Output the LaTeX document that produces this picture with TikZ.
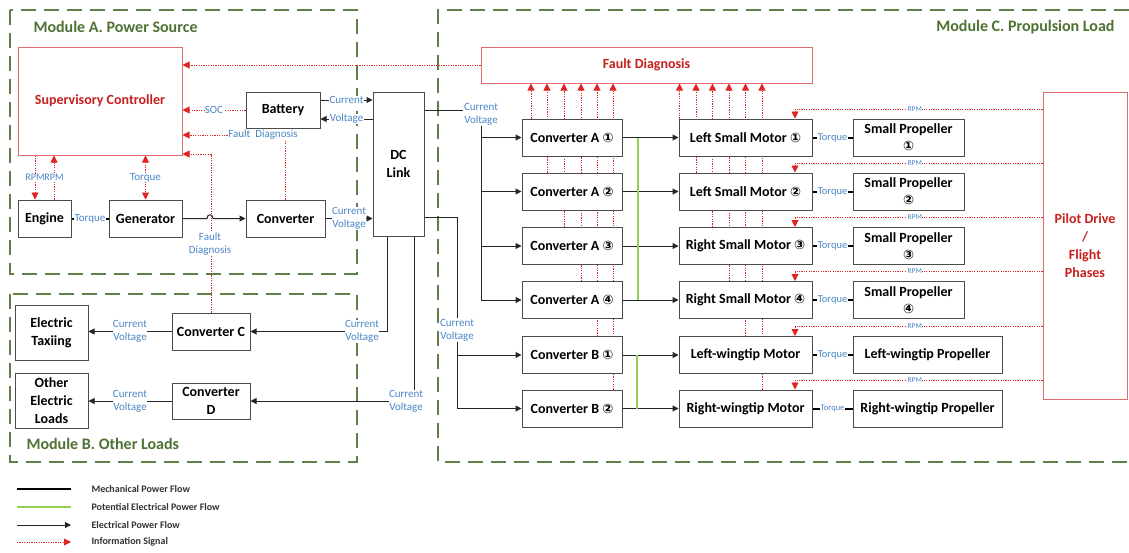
\documentclass[tikz,border=0pt]{standalone}
\usepackage{fontspec}
\setmainfont{Carlito}
\newfontfamily\circfont{DejaVu Sans}
\usetikzlibrary{arrows.meta}
\pgfdeclarelayer{back}
\pgfsetlayers{back,main}

\definecolor{sigred}{HTML}{E02424}
\definecolor{boxred}{HTML}{E06C6C}
\definecolor{txtred}{HTML}{C81E1E}
\definecolor{lblblue}{HTML}{4A86C6}
\definecolor{framegreen}{HTML}{5E7F4A}
\definecolor{modgreen}{HTML}{4E7233}
\definecolor{potgreen}{HTML}{92D050}

\newcommand{\cnum}[1]{{\circfont\fontsize{13}{13}\selectfont #1}}

\begin{document}
\begin{tikzpicture}[x=1pt,y=-1pt,
  blk/.style={draw=black!70, line width=1pt, fill=white, align=center, inner sep=0pt,
    font=\fontsize{14}{18}\selectfont\bfseries},
  redblk/.style={draw=boxred, line width=1pt, fill=white, align=center, inner sep=0pt,
    text=txtred, font=\fontsize{14}{18}\selectfont\bfseries},
  wire/.style={draw=black!85, line width=1pt},
  elec/.style={wire, -{Triangle[length=6pt,width=6pt]}},
  mech/.style={draw=black, line width=2pt},
  info/.style={draw=sigred, line width=0.9pt, dash pattern=on 1.2pt off 1.2pt,
    -{Triangle[length=7pt,width=7pt]}},
  lbl/.style={font=\fontsize{11}{13}\selectfont, text=lblblue, fill=white,
    inner sep=0.4pt, align=center},
  tq/.style={font=\fontsize{10.5}{11}\selectfont, text=lblblue, fill=white, inner sep=0.4pt},
  rpm/.style={font=\fontsize{7.5}{8}\selectfont, text=lblblue, fill=white, inner sep=0.5pt},
  modframe/.style={draw=framegreen, line width=2.2pt, dash pattern=on 15pt off 8pt},
  modtitle/.style={font=\fontsize{16}{18}\selectfont\bfseries, text=modgreen},
  legtxt/.style={font=\fontsize{10}{12}\selectfont\bfseries, text=black!80, anchor=west},
]
\useasboundingbox (0,0) rectangle (1129,552);

% ---------------- module frames ----------------
\begin{pgfonlayer}{back}
  \fill[white] (0,0) rectangle (1129,552);
  \draw[modframe] (10,10) rectangle (357,274);
  \draw[modframe] (10,294) rectangle (357,462);
  \draw[modframe] (1129,10) -- (438,10) -- (438,462) -- (1129,462);
\end{pgfonlayer}
\node[modtitle, anchor=west] (titA) at (30,27) {Module A. Power Source};
\node[modtitle, anchor=west] (titB) at (23,444) {Module B. Other Loads};
\node[modtitle, anchor=east] (titC) at (1118,27) {Module C. Propulsion Load};

% ---------------- Module A: power source ----------------
\node[redblk, minimum width=164pt, minimum height=108pt] (ctrl) at (100,101) {Supervisory Controller};
\node[blk, minimum width=74pt, minimum height=36pt] (batt) at (283,110) {Battery};
\node[blk, minimum width=53pt, minimum height=37pt] (engine) at (44.5,218.5) {Engine};
\node[blk, minimum width=73pt, minimum height=37pt] (gen) at (145.5,218.5) {Generator};
\node[blk, minimum width=79pt, minimum height=37pt] (conv) at (285.5,218.5) {Converter};
\node[blk, minimum width=51pt, minimum height=144pt] (dc) at (398.5,164) {DC\\Link};

% ---------------- Module B: other loads ----------------
\node[blk, minimum width=78pt, minimum height=37pt] (convC) at (211,331.5) {Converter C};
\node[blk, minimum width=78pt, minimum height=36pt] (convD) at (211,401) {Converter\\D};
\node[blk, minimum width=73pt, minimum height=55pt] (taxi) at (51.5,332.5) {Electric\\Taxiing};
\node[blk, minimum width=73pt, minimum height=55pt] (other) at (51.5,400.5) {Other\\Electric\\Loads};

% ---------------- Module C: propulsion load ----------------
\node[redblk, minimum width=331pt, minimum height=36pt] (fd) at (646.5,65) {Fault Diagnosis};
\node[redblk, minimum width=84pt, minimum height=307pt] (pilot) at (1085,245.5) {Pilot Drive\\/\\Flight\\Phases};

\foreach \i/\y/\cv/\mt in {
  1/137.5/{Converter A \cnum{①}}/{Left Small Motor \cnum{①}},
  2/191.5/{Converter A \cnum{②}}/{Left Small Motor \cnum{②}},
  3/246/{Converter A \cnum{③}}/{Right Small Motor \cnum{③}},
  4/300/{Converter A \cnum{④}}/{Right Small Motor \cnum{④}},
  5/355/{Converter B \cnum{①}}/{Left-wingtip Motor},
  6/408.5/{Converter B \cnum{②}}/{Right-wingtip Motor}}{
  \node[blk, minimum width=100pt, minimum height=37pt] (c\i) at (572,\y) {\cv};
  \node[blk, minimum width=133pt, minimum height=37pt] (m\i) at (745.5,\y) {\mt};
}
\foreach \i/\y/\n in {1/137.5/①,2/191.5/②,3/246/③,4/300/④}{
  \node[blk, minimum width=111pt, minimum height=37pt, font=\fontsize{14}{17}\selectfont\bfseries]
    (p\i) at (908.5,\y) {Small Propeller\\\cnum{\n}};
}
\node[blk, minimum width=149pt, minimum height=37pt] (p5) at (927.5,355) {Left-wingtip Propeller};
\node[blk, minimum width=149pt, minimum height=37pt] (p6) at (927.5,408.5) {Right-wingtip Propeller};

% ---------------- information signals to the fault diagnosis ----------------
\begin{pgfonlayer}{back}
  \foreach \i/\x in {1/531,2/547,3/564,4/581,5/597,6/613}
    \draw[info] (c\i.north -| \x,0) -- (fd.south -| \x,0);
  \foreach \i/\x in {1/679.5,2/696,3/712.5,4/729,5/745.5,6/762}
    \draw[info] (m\i.north -| \x,0) -- (fd.south -| \x,0);
\end{pgfonlayer}

% ---------------- Module A connectors ----------------
\draw[info] (fd.west) -- (ctrl.east |- fd.west);
\draw[info] (batt.west) -- node[lbl]{SOC} (ctrl.east |- batt.west);
\draw[info] (conv.north) -- (conv.north |- 0,135) -- (ctrl.east |- 0,135);
\node[lbl] (fdlblA) at (263,135) {Fault\ \ Diagnosis};
\draw[info] (ctrl.south -| 35,0) -- node[lbl, inner sep=0pt, font=\fontsize{10}{11}\selectfont]{RPM} (engine.north -| 35,0);
\draw[info] (engine.north -| 54,0) -- node[lbl, inner sep=0pt, font=\fontsize{10}{11}\selectfont]{RPM} (ctrl.south -| 54,0);
\draw[info, {Triangle[length=7pt,width=7pt]}-{Triangle[length=7pt,width=7pt]}]
  (ctrl.south -| gen.north) -- node[lbl]{Torque} (gen.north);
\draw[mech] (engine.east) -- node[tq, font=\fontsize{11}{12}\selectfont]{Torque} (gen.west);
\draw[elec] (gen.east) -- (207,218.5) .. controls (207,213.5) and (213,213.5) .. (213,218.5) -- (conv.west);
\draw[info] (convC.north) -- (convC.north |- 0,154) -- (ctrl.east |- 0,154);
\node[lbl] (fdlblC) at (210,244) {Fault\\Diagnosis};
\draw[elec] (conv.east) -- node[lbl]{Current\\Voltage} (dc.west |- conv.east);
\draw[elec] (batt.east |- 0,100) -- node[lbl]{Current} (dc.west |- 0,100);
\draw[elec] (dc.west |- 0,119) -- node[lbl]{Voltage} (batt.east |- 0,119);

% ---------------- Module B connectors ----------------
\draw[elec] (dc.south -| 387,0) -- (387,331.5) -- (convC.east);
\node[lbl] (lblC) at (362,331.5) {Current\\Voltage};
\draw[elec] (dc.south -| 414,0) -- (414,401) -- (convD.east);
\node[lbl] (lblD) at (406,401) {Current\\Voltage};
\draw[elec] (convC.west) -- node[lbl]{Current\\Voltage} (taxi.east |- convC.west);
\draw[elec] (convD.west) -- node[lbl]{Current\\Voltage} (other.east |- convD.west);

% ---------------- Module C connectors ----------------
\node[lbl] (busA) at (481,114) {Current\\Voltage};
\draw[wire] (dc.east |- 0,110) -- (busA.west |- 0,110);
\draw[elec] (busA.south) -- (busA.south |- c4.west) -- (c4.west);
\foreach \i in {1,2,3} \draw[elec] (busA.south |- c\i.west) -- (c\i.west);

\node[lbl] (busB) at (457,330) {Current\\Voltage};
\draw[wire] (dc.east |- 0,217) -- (457,217) -- (busB.north);
\draw[elec] (busB.south) -- (busB.south |- c6.west) -- (c6.west);
\draw[elec] (busB.south |- c5.west) -- (c5.west);

\foreach \i in {1,...,6} \draw[elec] (c\i.east) -- (m\i.west);
\draw[potgreen, line width=2pt] ([xshift=15pt]c1.east) -- ([xshift=15pt]c4.east);
\draw[potgreen, line width=2pt] ([xshift=14pt]c5.east) -- ([xshift=14pt]c6.east);

\foreach \i in {1,...,5} \draw[mech] (m\i.east) -- node[tq]{Torque} (p\i.west);
\draw[mech] (m6.east) -- node[tq, font=\fontsize{8.5}{9}\selectfont]{Torque} (p6.west);

\foreach \i/\r in {1/109,2/163,3/217.5,4/271.5,5/326.5,6/380}
  \draw[info] (pilot.west |- 0,\r) -- node[rpm, pos=0.516]{RPM} (795,\r) -- (m\i.north -| 795,0);

% ---------------- legend ----------------
\node[legtxt] (lg1) at (88,489) {Mechanical Power Flow};
\node[legtxt] (lg2) at (88,507) {Potential Electrical Power Flow};
\node[legtxt] (lg3) at (88,525) {Electrical Power Flow};
\node[legtxt] (lg4) at (88,542) {Information Signal};
\draw[mech, line width=2.5pt] (17,489) -- (71,489);
\draw[potgreen, line width=2.5pt] (17,507) -- (71,507);
\draw[elec] (17,525) -- (71,525);
\draw[info] (17,542) -- (71,542);
\end{tikzpicture}
\end{document}
